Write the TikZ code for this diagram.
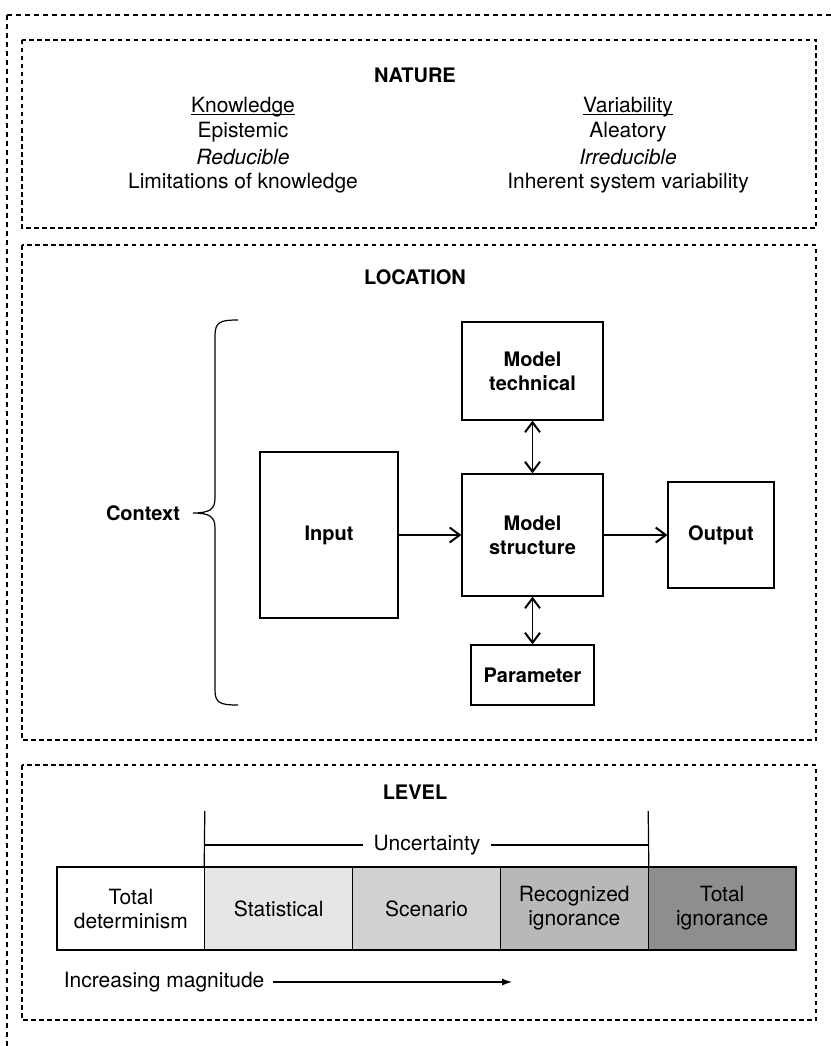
\documentclass[tikz,border=0pt]{standalone}
\usepackage{fontspec}
\setmainfont{TeX Gyre Heros}
\usetikzlibrary{arrows.meta}
\newlength\ulwd
\newcommand\baseul[1]{\settowidth\ulwd{#1}\rlap{\rule[-2.5pt]{\ulwd}{1pt}}#1}
\tikzset{
  frame/.style={draw, line width=1.3pt, dash pattern=on 5pt off 4pt},
  panel/.style={draw, line width=1.1pt, dash pattern=on 4.5pt off 3.5pt},
  txt/.style={font=\fontsize{21}{25}\selectfont, inner sep=0pt},
  head/.style={font=\fontsize{20}{24}\selectfont\bfseries, inner sep=0pt},
  blk/.style={draw, line width=1.2pt, align=center, inner sep=0pt,
    font=\fontsize{20}{24}\selectfont\bfseries},
  cell/.style={draw, line width=1.2pt, align=center, inner sep=0pt,
    minimum width=147.8pt, minimum height=83pt,
    font=\fontsize{21}{24}\selectfont},
  tip/.tip={Straight Barb[length=10pt,width=15pt,line width=2pt]},
}
\begin{document}
\begin{tikzpicture}[x=1pt, y=-1pt, line width=1.2pt]
  \useasboundingbox (0,0) rectangle (830,1046);
  \draw[frame] (7,15) rectangle (845,1065);
  % nature
  \draw[panel] (22,40) rectangle (816,228);
  \node[head] (nature) at (415,75) {NATURE};
  \node[txt] (k1) at (243,107) {\baseul{Knowledge}};
  \node[txt] (k2) at (243,132) {Epistemic};
  \node[txt] (k3) at (243,157) {\itshape Reducible};
  \node[txt] (k4) at (243,183) {Limitations of knowledge};
  \node[txt] (v1) at (628,107) {\baseul{Variability}};
  \node[txt] (v2) at (628,132) {Aleatory};
  \node[txt] (v3) at (628,157) {\itshape Irreducible};
  \node[txt] (v4) at (628,183) {Inherent system variability};
  % location
  \draw[panel] (22,245) rectangle (816,740);
  \node[head] (location) at (415,277) {LOCATION};
  \node[head] (context) at (143,513) {Context};
  \draw (238,320) .. controls (220,320) and (215,322) .. (215,336)
    -- (215,498) .. controls (215,509) and (210,513) .. (193,513)
    .. controls (210,513) and (215,517) .. (215,528)
    -- (215,690) .. controls (215,703) and (220,705) .. (238,705);
  \node[blk, minimum width=138pt, minimum height=166pt] (input) at (329,535) {Input};
  \node[blk, minimum width=141pt, minimum height=98pt] (mtech) at (532.5,371) {Model\\technical};
  \node[blk, minimum width=141pt, minimum height=122pt] (mstruct) at (532.5,535) {Model\\structure};
  \node[blk, minimum width=106pt, minimum height=106pt] (output) at (721,535) {Output};
  \node[blk, minimum width=123pt, minimum height=60pt] (param) at (532.5,675) {Parameter};
  \begin{scope}[-tip]
    \draw (input) to (mstruct);
    \draw (mstruct) to (output);
  \end{scope}
  \begin{scope}[tip-tip]
    \draw (mtech) to (mstruct);
    \draw (mstruct) to (param);
  \end{scope}
  % level
  \draw[panel] (22,765) rectangle (816,1020);
  \node[head] (level) at (415,792) {LEVEL};
  \node[cell] (det) at (130.9,908.5) {Total\\determinism};
  \node[cell, fill={rgb,255:red,230;green,230;blue,231}] (stat) at (278.7,908.5) {Statistical};
  \node[cell, fill={rgb,255:red,209;green,209;blue,210}] (scen) at (426.5,908.5) {Scenario};
  \node[cell, fill={rgb,255:red,184;green,184;blue,186}] (recog) at (574.3,908.5) {Recognized\\ignorance};
  \node[cell, fill={rgb,255:red,142;green,142;blue,144}] (totign) at (722.1,908.5) {Total\\ignorance};
  \coordinate (ul) at (204.8,811);
  \coordinate (ur) at (648.2,811);
  \node[txt, inner xsep=10pt] (unc) at (427,845) {Uncertainty};
  \draw (stat.north west) -- (ul);
  \draw (recog.north east) -- (ur);
  \draw (unc.west) -- (unc.west -| ul);
  \draw (unc.east) -- (unc.east -| ur);
  \node[txt, inner xsep=8pt, anchor=east] (incr) at (273,982) {Increasing magnitude};
  \coordinate (incrend) at (512,982);
  \draw[-{Latex[length=10pt,width=7pt]}] (incr.east) -- (incrend);
\end{tikzpicture}
\end{document}
